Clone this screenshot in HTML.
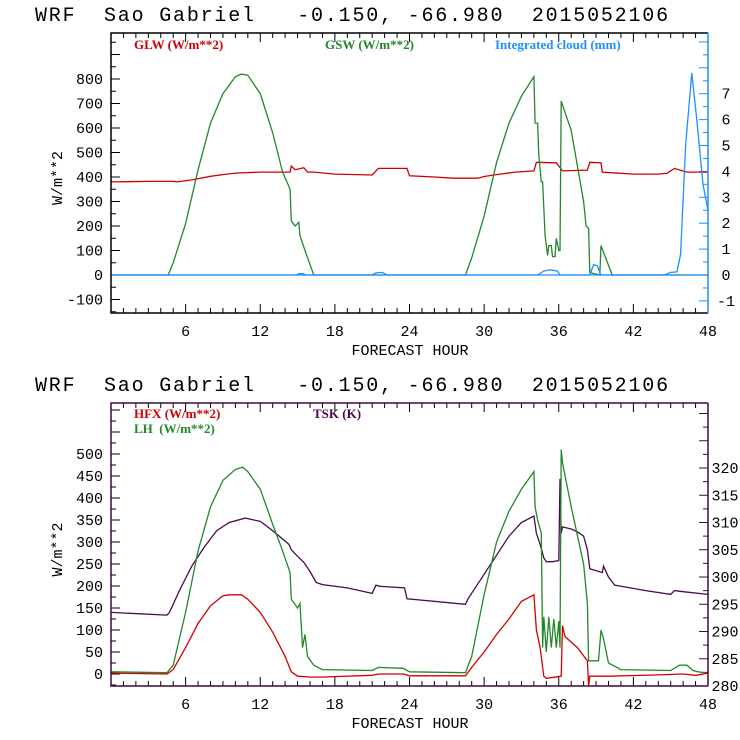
<!DOCTYPE html>
<html><head><meta charset="utf-8"><style>
body{margin:0;background:#fff;width:740px;height:740px;overflow:hidden}
svg{display:block}
.t{font-family:"Liberation Mono",monospace;font-size:20px;letter-spacing:1.8px;fill:#000;white-space:pre}
.tk{font-family:"Liberation Mono",monospace;font-size:15px;fill:#000}
.lg{font-family:"Liberation Serif",serif;font-size:13px;font-weight:bold;white-space:pre}
</style></head><body>
<svg id="c" width="740" height="740" viewBox="0 0 740 740"></svg>
<script>
// ---- top panel data ----
const gswHours=[0,4.6,5,6,7,8,9,10,10.5,11,12,13,13.8,14.4,14.5,14.8,15.1,15.2,15.6,16.3,28.5,29,30,31,32,33,34,34.1,34.3,34.4,34.6,34.7,34.9,35.1,35.2,35.4,35.5,35.7,35.8,36,36.1,36.2,37,38,38.2,38.4,38.5,39.3,39.4,40.3,48];
const gswVals=[0,0,50,210,430,620,740,810,820,815,740,580,420,350,220,200,215,160,100,0,0,70,240,460,620,730,810,620,620,490,380,380,160,80,120,120,75,75,150,100,100,710,590,300,200,190,10,0,120,0,0];
const glwHours=[0,3,5,5.3,6.5,8,9,10,12,14.4,14.5,14.8,15.5,15.8,16.3,18,21,21.5,23.8,24,26,27.5,29.5,30,31,32.5,34,34.2,35.8,36.3,38.3,38.5,39.4,39.5,41,42,44,44.7,45.3,46.3,48];
const glwVals=[380,382,382,380,388,403,410,416,420,420,445,430,438,420,420,412,408,435,435,405,400,395,395,402,410,420,425,460,458,425,428,460,458,420,415,412,412,415,435,420,420];
const cldHours=[0,14.9,15.1,15.5,15.6,21,21.3,21.8,22.2,34.3,34.8,35.3,35.9,36.1,38.5,38.8,39.1,39.4,44.5,45,45.5,45.8,46.2,46.7,47.1,47.6,48];
const cldVals=[0,0,0.05,0.05,0,0,0.08,0.1,0,0,0.15,0.2,0.15,0,0,0.4,0.35,0,0,0.1,0.12,0.8,5,7.8,6,3.5,2.5];
// ---- bottom panel data ----
const lhHours=[0,4.5,5,6,7,8,9,10,10.6,11,12,13,13.8,14.4,14.5,15,15.2,15.4,15.6,15.8,16.3,17,21,21.5,23.5,24,28.5,29,30,31,32,33,34,34.1,34.3,34.6,34.7,34.8,35,35.2,35.4,35.6,35.8,36,36.1,36.2,36.3,37,38,38.3,38.4,39.2,39.4,39.6,40,41,45,45.7,46.3,46.8,47.2,48];
const lhVals=[5,3,20,140,280,380,440,465,470,460,420,340,280,230,170,150,160,60,90,40,20,10,8,15,13,5,3,40,180,300,370,420,460,380,350,320,60,130,50,130,60,125,60,120,60,510,480,380,250,160,30,30,100,80,25,10,8,20,20,8,5,2];
const hfxHours=[0,4.5,5,6,7,8,9,9.5,10.5,11,12,13,14,14.5,15,16,17,18,21,21.5,23.5,24,28.5,29,30,31,32,33,34,34.2,34.5,34.8,35,36.2,36.3,36.5,37.5,38.3,38.4,38.5,40,44,46,47,48];
const hfxVals=[2,0,10,60,115,155,178,180,180,170,140,95,40,5,-5,-7,-7,-6,-3,0,0,-4,-4,15,50,90,125,165,180,100,60,-5,-10,-5,110,85,60,30,-50,-5,-5,-2,0,-3,2];
const tskHours=[0,4.5,4.7,5.5,6.5,7.5,8.5,9.5,10.8,12,13,14.3,14.5,15,15.5,16,16.5,17,19,21,21.3,21.6,23.6,23.8,28.5,28.7,30,31,32,33,34,34.2,34.5,34.8,35,35.5,36,36.1,36.2,36.3,37,37.5,38,38.3,38.5,39.5,39.6,40,40.5,43,45,45.3,46,48];
const tskVals=[293.5,293,293.5,297.5,302,305.5,308.5,310,310.8,310.2,308.5,306,305,303.8,302.7,301,299,298.6,298,297,298.5,298.3,298,296,295,296,300.5,304,307.5,310,311.2,308,306,303.5,302.8,302.8,303,318,308,309.2,308.8,308.3,307.5,305,301.5,300.8,302,300,298.5,297.5,296.8,297.5,297.3,296.8];

const yTopTicks=[-100,0,100,200,300,400,500,600,700,800];
const yTopRightTicks=[-1,0,1,2,3,4,5,6,7];
const yBotTicks=[0,50,100,150,200,250,300,350,400,450,500];
const yBotRightTicks=[280,285,290,295,300,305,310,315,320];
const xTicks=[6,12,18,24,30,36,42,48];

const NS='http://www.w3.org/2000/svg';
const svg=document.getElementById('c');
function el(tag,attrs,parent){const e=document.createElementNS(NS,tag);for(const k in attrs)e.setAttribute(k,attrs[k]);(parent||svg).appendChild(e);return e;}
const X0=111,X1=708;
const xs=h=>X0+(X1-X0)*h/48;

function panel(cfg){
  const g=el('g',{});
  
  
  const yL=v=>cfg.y0L+(v-cfg.v0L)*cfg.sL;
  const yR=v=>cfg.y0R+(v-cfg.v0R)*cfg.sR;
  const title=el('text',{x:35,y:cfg.top-12,class:'t'},g);
  title.textContent='WRF  Sao Gabriel   -0.150, -66.980  2015052106';
  
  
  for(let h=1;h<48;h++){
    const L=h%6===0?9:5;
    el('line',{x1:xs(h),x2:xs(h),y1:cfg.bot,y2:cfg.bot-L,stroke:'#000'},g);
    el('line',{x1:xs(h),x2:xs(h),y1:cfg.top,y2:cfg.top+L,stroke:'#000'},g);
  }
  xTicks.forEach(h=>{const t=el('text',{x:xs(h),y:cfg.bot+23,class:'tk','text-anchor':'middle'},g);t.textContent=h;
    
    });
  const xl=el('text',{x:410,y:cfg.bot+42,class:'tk','text-anchor':'middle'},g);
  xl.textContent='FORECAST HOUR';xl.setAttribute('font-size','17');
  
  
  for(let v=cfg.minL;v<=cfg.maxL;v+=cfg.stepL/2){
    const y=yL(v); if(y<cfg.top||y>cfg.bot)continue;
    const L=(Math.round(v/cfg.stepL*2)%2===0)?9:5;
    el('line',{x1:X0,x2:X0+L,y1:y,y2:y,stroke:'#000'},g);
  }
  cfg.ticksL.forEach(v=>{const t=el('text',{x:103,y:yL(v)+5,class:'tk','text-anchor':'end'},g);t.textContent=v;
    
    });
  for(let v=cfg.minR;v<=cfg.maxR;v+=cfg.stepR/2){
    const y=yR(v); if(y<cfg.top||y>cfg.bot)continue;
    const L=(Math.round(v/cfg.stepR*2)%2===0)?9:5;
    el('line',{x1:X1,x2:X1-L,y1:y,y2:y,stroke:cfg.rcol},g);
  }
  cfg.ticksR.forEach(v=>{const t=el('text',{x:cfg.rx,y:yR(v)+5,class:'tk','text-anchor':'middle'},g);t.textContent=v;t.setAttribute('font-size',cfg.rfs);
    
    });
  const yt=el('text',{x:0,y:0,class:'tk',transform:`translate(${cfg.ytx},${(cfg.top+cfg.bot)/2+5}) rotate(-90)`,'text-anchor':'middle'},g);
  yt.textContent='W/m**2';yt.setAttribute('font-size','19');
  
  
  cfg.series.forEach(s=>{
    const sc=s.right?yR:yL;
    const pts=s.h.map((h,i)=>xs(h).toFixed(1)+','+Math.min(cfg.bot,Math.max(cfg.top,sc(s.v[i]))).toFixed(1)).join(' ');
    const p=el('polyline',{points:pts,fill:'none',stroke:s.c,'stroke-width':1.3},g);
    
    
  });
  cfg.legend.forEach(l=>{const t=el('text',{x:l.x,y:l.y,class:'lg',fill:l.c},g);t.textContent=l.t;
    
    });
  if(cfg.zero){el('line',{x1:X0,x2:X1,y1:yL(0),y2:yL(0),stroke:'#1e8fff','stroke-width':1.3},g);}
  el('path',{d:`M${X1},${cfg.top}H${X0}V${cfg.bot}H${X1}`,fill:'none',stroke:cfg.fcol,'stroke-width':1.5},g);
  el('line',{x1:X1,x2:X1,y1:cfg.top,y2:cfg.bot,stroke:cfg.rcol,'stroke-width':1.5},g);
}

panel({name:'radiation-panel',top:33,bot:313,y0L:275,v0L:0,sL:-0.245,minL:-150,maxL:1150,stepL:100,ticksL:yTopTicks,
  y0R:275,v0R:0,sR:-25.9,minR:-1.5,maxR:9.5,stepR:1,ticksR:yTopRightTicks,rcol:'#1e8fff',fcol:'#000',rx:726,rfs:15,ytx:62,zero:true,
  series:[{name:'glw-line',h:glwHours,v:glwVals,c:'#d00000'},{name:'gsw-line',h:gswHours,v:gswVals,c:'#22882a'},{name:'cloud-line',h:cldHours,v:cldVals,c:'#1e8fff',right:true}],
  legend:[{x:134,y:49,c:'#d00000',t:'GLW (W/m**2)'},{x:325,y:49,c:'#22882a',t:'GSW (W/m**2)'},{x:495,y:49,c:'#1e8fff',t:'Integrated cloud (mm)'}]});
panel({name:'flux-panel',top:403,bot:686,y0L:674,v0L:0,sL:-0.44,minL:-25,maxL:650,stepL:50,ticksL:yBotTicks,
  y0R:686,v0R:280,sR:-5.45,minR:280,maxR:330,stepR:5,ticksR:yBotRightTicks,rcol:'#3d0a3d',fcol:'#3d0a3d',rx:725,rfs:12,ytx:62,zero:false,
  series:[{name:'tsk-line',h:tskHours,v:tskVals,c:'#4a0a4a',right:true},{name:'lh-line',h:lhHours,v:lhVals,c:'#22882a'},{name:'hfx-line',h:hfxHours,v:hfxVals,c:'#d00000'}],
  legend:[{x:134,y:418,c:'#d00000',t:'HFX (W/m**2)'},{x:134,y:433,c:'#22882a',t:'LH  (W/m**2)'},{x:313,y:418,c:'#4a0a4a',t:'TSK (K)'}]});
</script>
</body></html>
